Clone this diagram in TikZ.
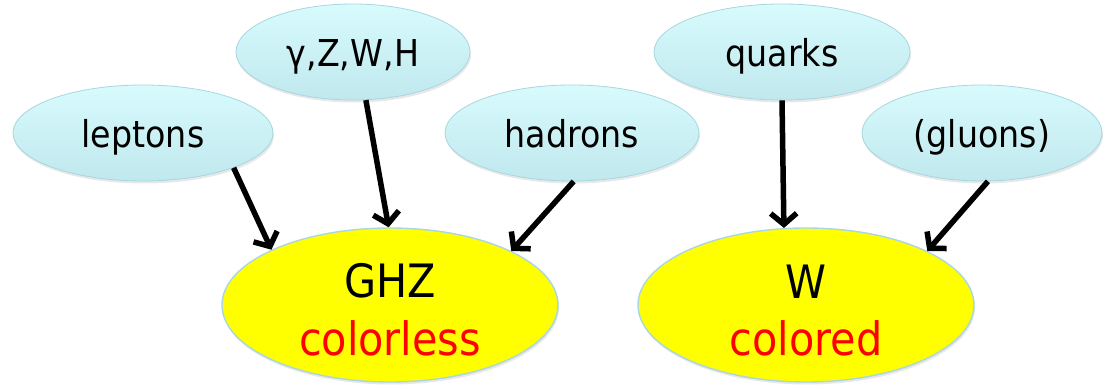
\documentclass[tikz,border=0pt]{standalone}
\usepackage{fontspec}
\newfontfamily\diagfont{DejaVu Sans Condensed}
\usetikzlibrary{shapes.geometric,arrows.meta,shadows}

\definecolor{bubbletop}{RGB}{216,251,253}
\definecolor{bubblebot}{RGB}{192,232,237}
\definecolor{bubbleline}{RGB}{168,214,224}
\definecolor{statefill}{RGB}{255,255,0}
\definecolor{stateline}{RGB}{170,214,226}
\definecolor{tagred}{RGB}{255,0,0}

\begin{document}
\begin{tikzpicture}[x=1pt,y=-1pt,
  source/.style={ellipse, inner sep=0pt, minimum height=96pt,
    draw=bubbleline, line width=0.8pt,
    top color=bubbletop, bottom color=bubblebot,
    drop shadow={opacity=0.18, shadow xshift=1pt, shadow yshift=-2.5pt},
    font=\diagfont\fontsize{37}{40}\selectfont,
    text height=30pt, text depth=0pt},
  state/.style={ellipse, inner sep=0pt, minimum width=336pt, minimum height=154pt,
    draw=stateline, line width=1.4pt, fill=statefill,
    drop shadow={opacity=0.18, shadow xshift=1pt, shadow yshift=-2.5pt}},
  statetext/.style={anchor=base, inner sep=0pt,
    font=\diagfont\fontsize{46}{50}\selectfont},
  link/.style={line width=5.5pt,
    -{Straight Barb[length=11pt,width=26pt]}}
]
\useasboundingbox (0,0) rectangle (1105,390);

% particle families
\node[source, minimum width=260pt] (leptons) at (143,133) {leptons};
\node[source, minimum width=234pt] (bosons)  at (353,52)  {γ,Z,W,H};
\node[source, minimum width=254pt] (hadrons) at (572,133) {hadrons};
\node[source, minimum width=256pt] (quarks)  at (782,52)  {quarks};
\node[source, minimum width=240pt] (gluons)  at (982,133) {(gluons)};

% entangled states
\node[state] (ghz) at (390,305) {};
\node[state] (wst) at (806,305) {};
\node[statetext] (ghzname) at (390,297) {GHZ};
\node[statetext, text=tagred] (ghztag) at (390,355) {colorless};
\node[statetext] (wname) at (806,298) {W};
\node[statetext, text=tagred] (wtag) at (806,355) {colored};

% connectors
\draw[link] (leptons.-21.5) -- (ghz.155);
\draw[link] (bosons.-75) -- (ghz.91);
\draw[link] (hadrons.-88) -- (ghz.24);
\draw[link] (quarks.-90) -- (wst.106);
\draw[link] (gluons.-83) -- (wst.24);
\end{tikzpicture}
\end{document}
